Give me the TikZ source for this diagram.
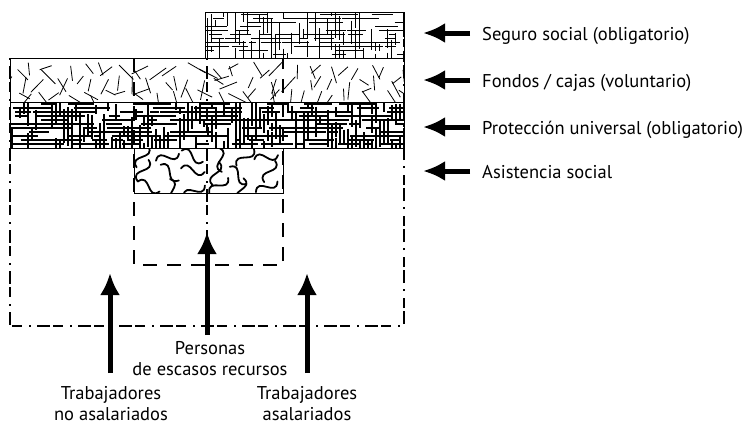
\documentclass[tikz,border=0pt]{standalone}
\usepackage{fontspec}
\setmainfont{PT Sans}
\usetikzlibrary{arrows.meta}

\tikzset{
  lab/.style={inner sep=0pt, font=\fontsize{18.5}{21}\selectfont},
  bigarrow/.style={line width=5pt, -{Latex[length=22pt,width=20pt]}},
  blockline/.style={line width=0.8pt},
  gridline/.style={line width=0.8pt},
  gridheavy/.style={line width=1.1pt},
  strokeline/.style={line width=0.8pt},
  squigline/.style={line width=1.8pt, line cap=round},
  mixline/.style={line width=2.2pt, dash pattern=on 2pt off 6pt on 13pt off 3pt on 10pt off 7pt},
  dashline/.style={line width=2.2pt, dash pattern=on 14pt off 10pt}
}

\begin{document}
\begin{tikzpicture}[x=1pt,y=-1pt]
  \useasboundingbox (0,0) rectangle (751,424);
  \pgfmathsetseed{11}

  % seguro social
  \begin{scope}
    \clip (205,12) rectangle (404,58);
    \foreach \i in {1,...,95}{
      \pgfmathsetmacro{\px}{200+200*rnd}
      \pgfmathsetmacro{\py}{14+4*int(11*rnd)}
      \pgfmathsetmacro{\pl}{6+24*rnd}
      \draw[gridline] (\px,\py) -- ++(\pl,0);
    }
    \foreach \i in {1,...,95}{
      \pgfmathsetmacro{\px}{207+4*int(50*rnd)}
      \pgfmathsetmacro{\py}{8+46*rnd}
      \pgfmathsetmacro{\pl}{6+20*rnd}
      \draw[gridline] (\px,\py) -- ++(0,\pl);
    }
  \end{scope}

  % fondos / cajas
  \begin{scope}
    \clip (10,58) rectangle (404,102);
    \foreach \c in {0,...,29}{
      \foreach \r in {0,1,2}{
        \pgfmathsetmacro{\px}{10+13.3*\c+10*rnd}
        \pgfmathsetmacro{\py}{62+13*\r+8*rnd}
        \pgfmathsetmacro{\pa}{25+140*rnd}
        \pgfmathsetmacro{\pl}{10+11*rnd}
        \draw[strokeline] (\px,\py) -- ++(\pa:\pl);
      }
    }
  \end{scope}

  % proteccion universal
  \begin{scope}
    \clip (10,102) rectangle (404,148);
    \foreach \i in {1,...,220}{
      \pgfmathsetmacro{\px}{5+400*rnd}
      \pgfmathsetmacro{\py}{104+4*int(11*rnd)}
      \pgfmathsetmacro{\pl}{6+24*rnd}
      \draw[gridheavy] (\px,\py) -- ++(\pl,0);
    }
    \foreach \i in {1,...,220}{
      \pgfmathsetmacro{\px}{12+4*int(99*rnd)}
      \pgfmathsetmacro{\py}{98+46*rnd}
      \pgfmathsetmacro{\pl}{6+20*rnd}
      \draw[gridheavy] (\px,\py) -- ++(0,\pl);
    }
  \end{scope}

  % asistencia social
  \begin{scope}
    \clip (134,148) rectangle (283,193);
    \foreach \c in {0,...,5}{
      \foreach \r in {0,1,2}{
        \pgfmathsetmacro{\px}{142+24*\c+8*rnd}
        \pgfmathsetmacro{\py}{155+15*\r+6*rnd}
        \pgfmathsetmacro{\pa}{360*rnd}
        \draw[squigline, rotate around={\pa:(\px,\py)}]
          (\px-12,\py) .. controls (\px-4,\py-14) and (\px+4,\py+14) .. (\px+12,\py);
      }
    }
  \end{scope}

  % blocks
  \draw[blockline] (205,12) rectangle (404,58);
  \draw[blockline] (10,58) rectangle (404,102);
  \draw[blockline] (10,102) rectangle (404,148);
  \draw[blockline] (134,148) rectangle (283,193);

  % groups
  \draw[mixline] (10,58) -- (10,326) -- (404,326) -- (404,12);
  \draw[mixline] (207,58) -- (207,326);
  \draw[dashline] (134,58) -- (134,265) -- (283,265) -- (283,58);

  % legend
  \node[lab, anchor=base west] (lseg) at (482,40) {Seguro social (obligatorio)};
  \node[lab, anchor=base west] (lfon) at (482,87) {Fondos / cajas (voluntario)};
  \node[lab, anchor=base west] (lpro) at (482,134) {Protección universal (obligatorio)};
  \node[lab, anchor=base west] (lasi) at (482,178) {Asistencia social};
  \coordinate (tseg) at (423,33);
  \coordinate (tfon) at (423,80);
  \coordinate (tpro) at (423,127);
  \coordinate (tasi) at (423,171);
  \draw[bigarrow] (lseg.west |- tseg) ++(-12,0) -- (tseg);
  \draw[bigarrow] (lfon.west |- tfon) ++(-12,0) -- (tfon);
  \draw[bigarrow] (lpro.west |- tpro) ++(-12,0) -- (tpro);
  \draw[bigarrow] (lasi.west |- tasi) ++(-12,0) -- (tasi);

  % people
  \node[lab, align=center, anchor=north] (per) at (210,341) {Personas\\de escasos recursos};
  \node[lab, align=center, anchor=north] (tno) at (111,386) {Trabajadores\\no asalariados};
  \node[lab, align=center, anchor=north] (tas) at (307,386) {Trabajadores\\asalariados};
  \coordinate (aper) at (207,232);
  \coordinate (atno) at (110,273);
  \coordinate (atas) at (307,273);
  \draw[bigarrow] (per.north -| aper) ++(0,-6) -- (aper);
  \draw[bigarrow] (tno.north -| atno) ++(0,-13) -- (atno);
  \draw[bigarrow] (tas.north -| atas) ++(0,-13) -- (atas);
\end{tikzpicture}
\end{document}
